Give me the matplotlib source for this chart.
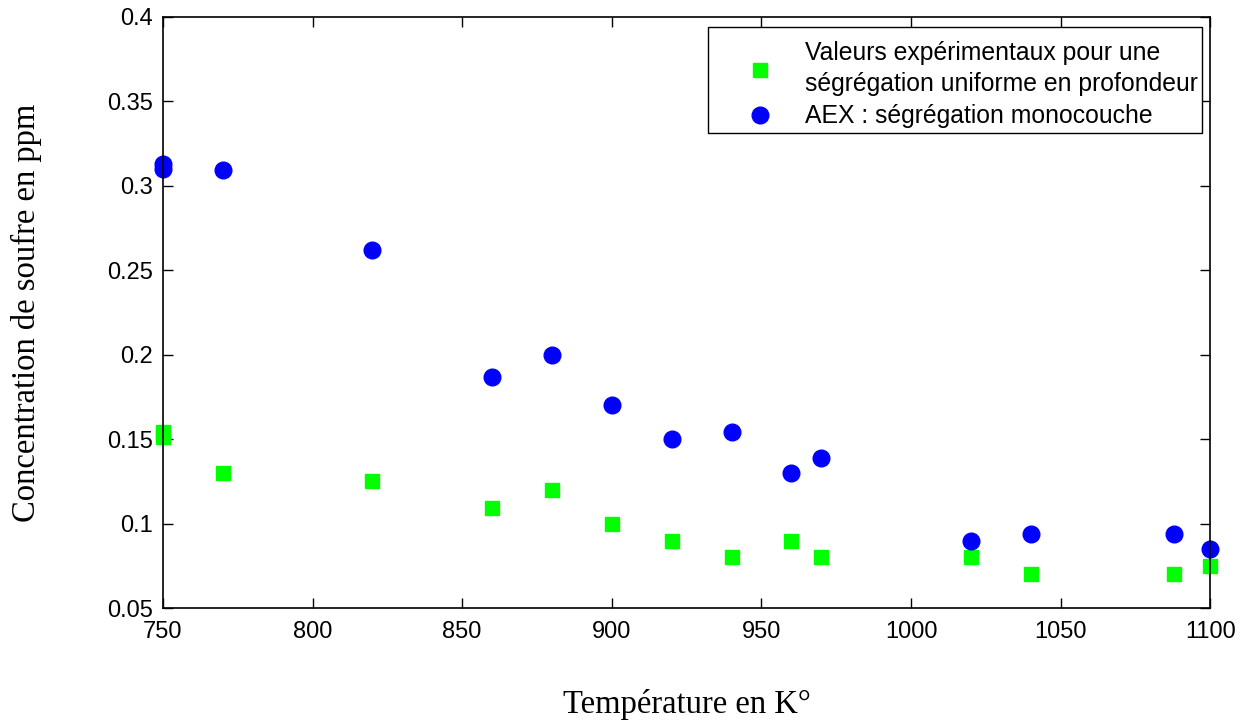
import matplotlib.pyplot as plt
from matplotlib.patches import Rectangle

# temperature (K) and sulfur concentration (ppm)
temp_exp = [750, 750, 770, 820, 860, 880, 900, 920, 940, 960, 970, 1020, 1040, 1088, 1100]
conc_exp = [0.154, 0.151, 0.130, 0.125, 0.109, 0.120, 0.100, 0.090, 0.080, 0.090, 0.080, 0.080, 0.070, 0.070, 0.075]

temp_aex = [750, 750, 770, 820, 860, 880, 900, 920, 940, 960, 970, 1020, 1040, 1088, 1100]
conc_aex = [0.313, 0.310, 0.309, 0.262, 0.187, 0.200, 0.170, 0.150, 0.154, 0.130, 0.139, 0.090, 0.094, 0.094, 0.085]

xticks = [750, 800, 850, 900, 950, 1000, 1050, 1100]
yticks = [0.05, 0.1, 0.15, 0.2, 0.25, 0.3, 0.35, 0.4]

fig = plt.figure(figsize=(12.53, 7.24), dpi=100)
ax = fig.add_axes([0.130, 0.160, 0.836, 0.817])

ax.plot(temp_exp, conc_exp, 's', color='#00ff00', markersize=10.5, clip_on=False,
        label='Valeurs expérimentaux pour une\nségrégation uniforme en profondeur')
ax.plot(temp_aex, conc_aex, 'o', color='#0000ff', markersize=12, clip_on=False,
        label='AEX : ségrégation monocouche')

ax.set_xlim(750, 1100)
ax.set_ylim(0.05, 0.4)
ax.set_xticks(xticks)
ax.set_xticklabels([str(t) for t in xticks])
ax.set_yticks(yticks)
ax.set_yticklabels([f'{t:g}' for t in yticks])

ax.tick_params(direction='in', top=True, right=True, length=7, width=1,
               labelsize=17)
ax.tick_params(axis='x', pad=9)
ax.tick_params(axis='y', pad=7)
for lab in ax.get_xticklabels() + ax.get_yticklabels():
    lab.set_fontfamily('Liberation Sans')
for s in ax.spines.values():
    s.set_linewidth(1.2)

ax.set_xlabel('Température en K°', family='Liberation Serif', fontsize=23.5, va='center')
ax.xaxis.set_label_coords(0.5, -0.163)
ax.set_ylabel('Concentration de soufre en ppm', family='Liberation Serif', fontsize=23.5, va='center')
ax.yaxis.set_label_coords(-0.13, 0.5)

# legend box drawn separately (MATLAB-style, text close to the right border)
box = Rectangle((0.5205, 0.8037), 0.9924 - 0.5205, 0.9831 - 0.8037,
                transform=ax.transAxes, facecolor='white', edgecolor='black',
                linewidth=1.0, clip_on=False, zorder=4)
ax.add_patch(box)

leg = ax.legend(loc='upper right', bbox_to_anchor=(0.9885, 0.9585), borderaxespad=0,
                prop={'family': 'Liberation Sans', 'size': 17.8},
                frameon=False, handletextpad=0.82, borderpad=0, labelspacing=0.32,
                handlelength=2.0)
leg.set_zorder(5)
leg.get_texts()[0].set_linespacing(1.375)

fig.savefig('out.png', dpi=100)
